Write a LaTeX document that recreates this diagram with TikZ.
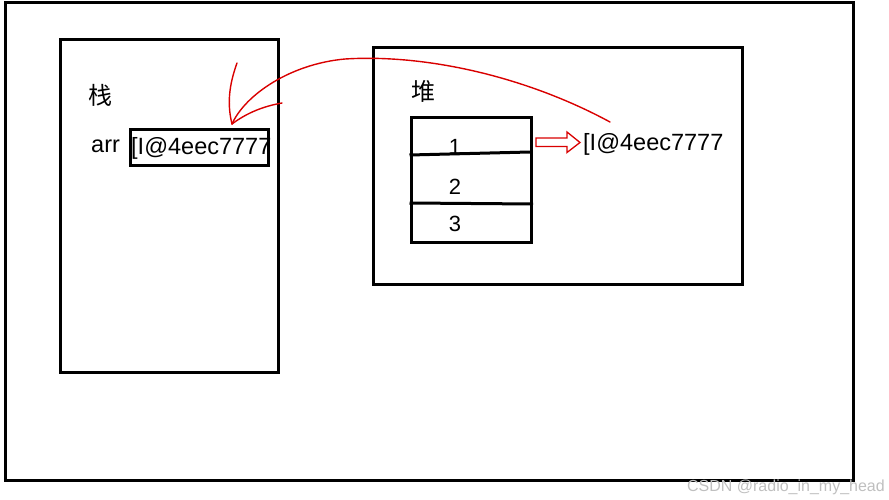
\documentclass[tikz,border=0pt]{standalone}
\usepackage{fontspec}
\setmainfont{Liberation Sans}
\newfontfamily\cjk{Noto Sans CJK SC}
\begin{document}
\begin{tikzpicture}[x=1pt,y=-1pt,
  frame/.style={draw=black,line width=3pt},
  txt/.style={font=\fontsize{23.5}{27}\selectfont,inner sep=0pt,anchor=base west},
  cjktxt/.style={font=\cjk\fontsize{24}{28}\selectfont,inner sep=0pt,anchor=center},
  num/.style={font=\fontsize{22}{26}\selectfont,inner sep=0pt,anchor=base},
  redline/.style={draw=red!85!black,line width=1.4pt,line cap=round},
  wm/.style={font=\fontsize{16}{19}\selectfont,text=black!25,inner sep=0pt,anchor=base east}]
\useasboundingbox (0,0) rectangle (889,500);
% outer frame
\node[frame,minimum width=848pt,minimum height=477pt,inner sep=0pt] (outer) at (429,241.5) {};
% stack
\node[frame,minimum width=218pt,minimum height=332pt,inner sep=0pt] (stack) at (169,206) {};
\node[cjktxt] (stacklbl) at (100,95) {栈};
\node[txt] (arr) at (91,153) {arr};
\node[txt] (val) at (131,155) {[I@4eec7777};
\node[frame,minimum width=138pt,minimum height=36pt,inner sep=0pt] (valbox) at (199,148) {};
% heap
\node[frame,minimum width=369pt,minimum height=237pt,inner sep=0pt] (heap) at (557.5,166) {};
\node[cjktxt] (heaplbl) at (423,91) {堆};
\node[frame,minimum width=120pt,minimum height=124pt,inner sep=0pt] (array) at (471,180) {};
\draw[line width=3pt] (array.west |- 0,155) -- (530,152);
\draw[line width=3pt] (array.west |- 0,203) -- (533,204);
\node[num] (n1) at (455,155) {1};
\node[num] (n2) at (455,194) {2};
\node[num] (n3) at (455,231) {3};
\node[txt] (heapaddr) at (583,150) {[I@4eec7777};
% hollow arrow
\coordinate (ha) at (536,142.5);
\draw[redline,line width=1.3pt,line cap=butt,line join=miter]
  (ha) ++(0,-4.5) -- ++(31,0) -- ++(0,-6) -- (580,142.5) -- (567,152.5) -- ++(0,-6) -- ++(-31,0) -- cycle;
% reference curve
\coordinate (cstart) at (610,122);
\coordinate (tip) at (232,124);
\draw[redline] (cstart) .. controls (525,76) and (425,54) .. (345,59)
  .. controls (290,64) and (245,95) .. (tip);
\draw[redline] (tip) .. controls (226,100) and (231,80) .. (237,63);
\draw[redline] (tip) .. controls (248,112) and (265,106) .. (282,103);
% watermark
\node[wm] (mark) at (885,491) {CSDN @radio\_in\_my\_head};
\end{tikzpicture}
\end{document}
